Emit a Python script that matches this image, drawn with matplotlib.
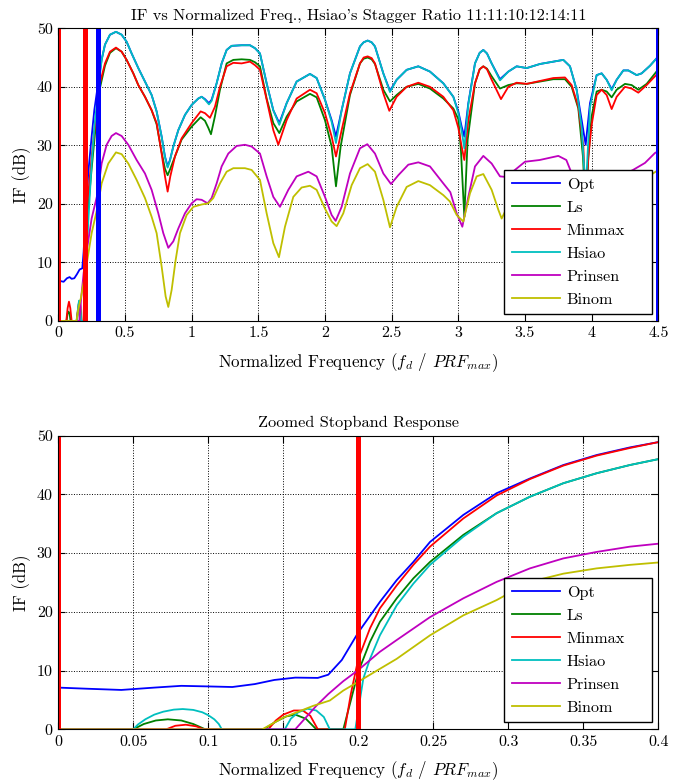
import matplotlib
matplotlib.use("Agg")
import matplotlib.pyplot as plt
from matplotlib.ticker import FuncFormatter, MultipleLocator

plt.rcParams["font.family"] = "cmr10"
plt.rcParams["mathtext.fontset"] = "cm"
plt.rcParams["axes.unicode_minus"] = False
plt.rcParams["axes.formatter.use_mathtext"] = True

LABELS = ["Opt", "Ls", "Minmax", "Hsiao", "Prinsen", "Binom"]
COLORS = ["b", "g", "r", "c", "m", "y"]

# ---- full band (0 .. 4.5), (freq, IF dB) ----
top_opt = [
    (0, 7.0), (0.02, 6.8), (0.04, 6.7), (0.065, 7.3), (0.085, 7.5), (0.1, 7.2), (0.12, 7.3),
    (0.14, 8.0), (0.16, 8.8), (0.18, 9.0), (0.19, 11.8), (0.2, 16.3), (0.225, 25.4),
    (0.25, 31.5), (0.27, 36.0), (0.295, 40.0), (0.325, 44.6), (0.35, 47.2), (0.3875, 48.9),
    (0.4325, 49.4), (0.475, 48.9), (0.5125, 47.7), (0.55, 45.7), (0.6, 43.2), (0.65, 40.9),
    (0.7, 38.6), (0.7375, 35.8), (0.775, 31.5), (0.8, 28.1), (0.82, 26.4), (0.8375, 27.5),
    (0.8625, 29.8), (0.9, 32.6), (0.95, 35.2), (1.0, 36.9), (1.05, 38.0), (1.075, 38.3),
    (1.1, 37.9), (1.13, 37.2), (1.15, 37.8), (1.1875, 40.6), (1.225, 44.0), (1.2625, 46.3),
    (1.3, 47.0), (1.375, 47.1), (1.4375, 47.1), (1.475, 46.6), (1.5125, 45.7), (1.5625, 40.6),
    (1.6125, 36.0), (1.6575, 33.8), (1.7125, 37.2), (1.7875, 40.9), (1.8875, 42.2),
    (1.9375, 41.5), (2.0, 37.8), (2.05, 34.3), (2.0825, 31.5), (2.125, 36.0), (2.1875, 42.3),
    (2.2625, 46.9), (2.29, 47.6), (2.32, 47.9), (2.35, 47.6), (2.375, 46.9), (2.4375, 42.3),
    (2.4875, 39.3), (2.5375, 41.2), (2.6125, 42.9), (2.7, 43.5), (2.7875, 42.6),
    (2.8875, 40.6), (2.9625, 38.3), (3.0, 35.8), (3.025, 33.2), (3.045, 31.5), (3.075, 37.2),
    (3.125, 44.0), (3.16, 45.8), (3.1875, 46.3), (3.215, 45.7), (3.25, 44.0), (3.3125, 41.3),
    (3.375, 42.6), (3.4375, 43.5), (3.5125, 43.2), (3.6125, 43.9), (3.7125, 44.3),
    (3.7875, 44.6), (3.8375, 43.5), (3.8875, 39.5), (3.925, 34.3), (3.955, 30.1),
    (3.9875, 37.2), (4.0375, 42.0), (4.075, 42.3), (4.1125, 41.2), (4.15, 39.6),
    (4.1875, 41.2), (4.2375, 42.8), (4.275, 42.8), (4.3375, 42.0), (4.375, 42.3),
    (4.4375, 43.6), (4.5, 45.2)]

top_hsiao = [
    (0, 0), (0.14, 0), (0.15, 2.8), (0.157, 3.5), (0.165, 2.5), (0.172, 0), (0.198, 0),
    (0.21, 10.0), (0.225, 17.0), (0.25, 27.0), (0.27, 33.0), (0.295, 38.5), (0.325, 44.6),
    (0.35, 47.2), (0.3875, 48.9), (0.4325, 49.4), (0.475, 48.9), (0.5125, 47.7), (0.55, 45.7),
    (0.6, 43.2), (0.65, 40.9), (0.7, 38.6), (0.7375, 35.8), (0.775, 31.5), (0.8, 28.0),
    (0.82, 26.2), (0.8375, 27.4), (0.8625, 29.8), (0.9, 32.6), (0.95, 35.2), (1.0, 36.9),
    (1.05, 38.0), (1.075, 38.3), (1.1, 37.8), (1.13, 37.0), (1.15, 37.6), (1.1875, 40.6),
    (1.225, 44.0), (1.2625, 46.3), (1.3, 47.0), (1.375, 47.1), (1.4375, 47.1), (1.475, 46.6),
    (1.5125, 45.7), (1.5625, 40.6), (1.6125, 36.0), (1.6575, 33.5), (1.7125, 37.2),
    (1.7875, 40.9), (1.8875, 42.2), (1.9375, 41.5), (2.0, 37.8), (2.05, 34.0), (2.0825, 30.4),
    (2.125, 36.0), (2.1875, 42.3), (2.2625, 46.9), (2.29, 47.6), (2.32, 47.9), (2.35, 47.6),
    (2.375, 46.9), (2.4375, 42.3), (2.4875, 39.1), (2.5375, 41.2), (2.6125, 42.9), (2.7, 43.5),
    (2.7875, 42.6), (2.8875, 40.6), (2.9625, 38.3), (3.0, 35.5), (3.025, 32.5), (3.045, 29.5),
    (3.075, 37.0), (3.125, 44.0), (3.16, 45.8), (3.1875, 46.3), (3.215, 45.7), (3.25, 44.0),
    (3.3125, 41.1), (3.375, 42.6), (3.4375, 43.5), (3.5125, 43.2), (3.6125, 43.9),
    (3.7125, 44.3), (3.7875, 44.6), (3.8375, 43.5), (3.8875, 39.5), (3.925, 33.0),
    (3.955, 22.0), (3.9875, 36.5), (4.0375, 42.0), (4.075, 42.3), (4.1125, 41.2),
    (4.15, 39.4), (4.1875, 41.2), (4.2375, 42.8), (4.275, 42.8), (4.3375, 42.0),
    (4.375, 42.3), (4.4375, 43.6), (4.5, 45.2)]

top_ls = [
    (0, 0), (0.062, 0), (0.07, 1.3), (0.077, 1.6), (0.085, 1.2), (0.092, 0), (0.137, 0),
    (0.145, 1.3), (0.152, 2.2), (0.158, 2.5), (0.165, 1.8), (0.172, 0), (0.19, 0), (0.2, 9.8),
    (0.215, 17.0), (0.25, 26.0), (0.2775, 32.5), (0.3125, 39.8), (0.35, 43.6), (0.3875, 45.8),
    (0.4325, 46.6), (0.475, 46.0), (0.5125, 44.6), (0.5625, 42.3), (0.6, 40.3), (0.65, 38.3),
    (0.7, 36.0), (0.7375, 33.6), (0.775, 28.8), (0.8, 26.0), (0.82, 24.9), (0.84, 26.0),
    (0.875, 28.1), (0.925, 31.0), (1.0, 33.2), (1.0675, 34.8), (1.1, 34.2), (1.125, 33.0),
    (1.145, 31.9), (1.175, 35.0), (1.2125, 39.5), (1.2625, 44.0), (1.3125, 44.6),
    (1.375, 44.7), (1.4375, 44.6), (1.475, 44.2), (1.5125, 43.5), (1.5625, 38.0),
    (1.6125, 33.8), (1.6575, 32.1), (1.7125, 34.9), (1.7875, 37.5), (1.8875, 38.8),
    (1.9375, 38.2), (2.0, 34.3), (2.05, 29.8), (2.0825, 23.0), (2.1175, 29.8), (2.1875, 38.6),
    (2.2625, 44.0), (2.29, 44.8), (2.32, 45.0), (2.35, 44.7), (2.375, 43.9), (2.4375, 39.5),
    (2.4875, 37.5), (2.5375, 38.6), (2.6125, 40.0), (2.7, 40.5), (2.7875, 39.7),
    (2.8875, 38.0), (2.9625, 36.3), (3.0, 34.5), (3.02, 29.0), (3.045, 17.8), (3.07, 31.0),
    (3.125, 40.6), (3.16, 43.0), (3.1875, 43.5), (3.215, 43.1), (3.25, 41.8), (3.3125, 39.7),
    (3.375, 40.3), (3.4375, 40.6), (3.5125, 40.5), (3.6125, 40.9), (3.7125, 41.3),
    (3.8, 41.3), (3.85, 40.0), (3.9, 36.3), (3.935, 28.0), (3.955, 18.0), (3.975, 28.0),
    (4.0, 35.0), (4.0375, 39.2), (4.075, 39.5), (4.1125, 39.2), (4.15, 38.2), (4.1875, 39.5),
    (4.25, 40.5), (4.3, 40.3), (4.35, 39.5), (4.4125, 40.5), (4.5, 43.0)]

top_minmax = [
    (0, 0), (0.06, 0), (0.07, 2.2), (0.08, 3.3), (0.09, 2.2), (0.1, 0), (0.14, 0),
    (0.145, 1.5), (0.15, 2.5), (0.157, 3.2), (0.163, 3.2), (0.168, 2.3), (0.173, 0),
    (0.19, 0), (0.2, 12.6), (0.21, 18.0), (0.25, 28.0), (0.2775, 34.0), (0.3125, 40.6),
    (0.35, 44.0), (0.3875, 46.0), (0.4325, 46.7), (0.475, 46.0), (0.5125, 44.6),
    (0.5625, 42.3), (0.6, 40.3), (0.65, 38.3), (0.7, 36.0), (0.7375, 33.8), (0.775, 28.6),
    (0.8, 24.7), (0.82, 22.1), (0.84, 24.7), (0.875, 28.1), (0.925, 31.2), (1.0, 33.8),
    (1.0675, 35.8), (1.1, 35.5), (1.1375, 34.7), (1.175, 36.6), (1.2125, 40.0),
    (1.2625, 43.5), (1.3125, 44.1), (1.375, 44.0), (1.4375, 44.3), (1.475, 43.7),
    (1.5125, 42.9), (1.5625, 37.8), (1.6125, 32.6), (1.65, 30.1), (1.7125, 34.3),
    (1.7875, 38.0), (1.8875, 39.5), (1.9375, 38.9), (2.0, 35.5), (2.05, 31.5), (2.0825, 28.1),
    (2.125, 32.6), (2.1875, 38.9), (2.2625, 44.0), (2.29, 45.0), (2.32, 45.2), (2.35, 44.9),
    (2.375, 44.0), (2.4375, 38.9), (2.4825, 35.9), (2.5375, 38.3), (2.6125, 40.0),
    (2.7, 40.7), (2.7875, 40.0), (2.8875, 38.3), (2.9625, 36.0), (3.0, 33.0), (3.025, 29.8),
    (3.045, 27.5), (3.075, 34.3), (3.125, 40.6), (3.16, 43.0), (3.1875, 43.5), (3.215, 43.0),
    (3.25, 41.2), (3.32, 37.9), (3.375, 40.0), (3.4375, 40.7), (3.5125, 40.5), (3.6125, 41.0),
    (3.7125, 41.5), (3.8, 41.6), (3.85, 40.3), (3.9, 36.6), (3.9375, 29.8), (3.955, 20.0),
    (3.975, 28.0), (4.0, 33.5), (4.0375, 38.6), (4.075, 39.5), (4.1125, 38.6), (4.15, 36.2),
    (4.1875, 38.3), (4.25, 40.0), (4.3, 39.7), (4.35, 39.0), (4.4125, 40.3), (4.5, 42.4)]

top_prinsen = [
    (0, 0), (0.158, 0), (0.172, 4.0), (0.19, 8.2), (0.2, 10.0), (0.25, 17.5), (0.295, 21.8),
    (0.325, 26.9), (0.3625, 30.1), (0.4, 31.6), (0.4325, 32.1), (0.475, 31.6), (0.525, 30.1),
    (0.5875, 27.5), (0.65, 25.2), (0.7, 22.4), (0.75, 18.4), (0.7875, 15.0), (0.825, 12.5),
    (0.8625, 13.6), (0.9, 15.8), (0.95, 18.4), (1.0, 20.1), (1.0375, 20.8), (1.075, 20.7),
    (1.12, 20.1), (1.15, 21.0), (1.1875, 23.5), (1.225, 26.4), (1.275, 28.6), (1.3375, 29.9),
    (1.4, 30.1), (1.45, 29.8), (1.5125, 28.6), (1.5625, 24.7), (1.6125, 21.2), (1.6625, 19.5),
    (1.725, 22.4), (1.7875, 24.7), (1.875, 25.5), (1.9375, 24.7), (2.0, 21.2), (2.05, 18.1),
    (2.08, 17.1), (2.125, 19.5), (2.1875, 25.2), (2.2625, 29.5), (2.3175, 30.2),
    (2.375, 28.6), (2.4375, 25.2), (2.495, 23.4), (2.55, 24.9), (2.625, 26.7), (2.7, 27.1),
    (2.7875, 26.4), (2.8875, 23.5), (2.94, 22.0), (2.9875, 18.4), (3.03, 16.1),
    (3.075, 21.2), (3.125, 26.4), (3.1875, 28.2), (3.25, 26.9), (3.3125, 24.7), (3.36, 24.6),
    (3.5, 27.2), (3.61, 27.5), (3.75, 28.2), (3.81, 27.5), (3.84, 25.8), (3.9, 21.0),
    (3.955, 16.0), (4.0, 20.0), (4.1, 23.0), (4.2, 24.5), (4.31, 25.8), (4.4, 27.0),
    (4.475, 28.7), (4.5, 29.0)]

top_binom = [
    (0, 0), (0.136, 0), (0.15, 2.0), (0.17, 4.0), (0.19, 6.6), (0.2, 7.9), (0.25, 15.0),
    (0.295, 19.5), (0.325, 23.5), (0.375, 26.9), (0.4325, 28.8), (0.475, 28.5), (0.525, 26.9),
    (0.5875, 24.1), (0.65, 21.0), (0.7, 17.8), (0.7375, 15.0), (0.775, 9.3), (0.805, 4.2),
    (0.825, 2.4), (0.85, 5.3), (0.88, 10.4), (0.9125, 15.0), (0.9625, 18.1), (1.0125, 19.5),
    (1.075, 19.9), (1.125, 20.1), (1.1625, 21.0), (1.2125, 23.5), (1.2625, 25.5),
    (1.3125, 26.1), (1.4, 26.1), (1.45, 25.8), (1.5125, 24.1), (1.5625, 18.4), (1.6125, 13.3),
    (1.655, 10.9), (1.7, 16.1), (1.7625, 21.2), (1.825, 22.8), (1.8875, 23.1), (1.9375, 22.4),
    (2.0, 19.2), (2.05, 17.0), (2.0875, 16.2), (2.1375, 18.4), (2.2, 23.2), (2.2625, 26.1),
    (2.32, 26.8), (2.375, 25.5), (2.4375, 20.7), (2.4875, 16.0), (2.5375, 19.5),
    (2.6125, 22.9), (2.7, 23.9), (2.7875, 23.2), (2.8875, 21.5), (2.9375, 20.4),
    (2.9875, 18.1), (3.0375, 17.0), (3.0875, 21.8), (3.1375, 24.7), (3.1875, 25.1),
    (3.25, 22.4), (3.3, 19.0), (3.325, 17.5), (3.4, 21.0), (3.5, 23.0), (3.7, 24.5),
    (3.85, 23.0), (3.95, 17.5), (4.05, 21.0), (4.2, 22.5), (4.35, 23.5), (4.46, 25.2),
    (4.5, 25.8)]

# ---- zoomed stopband (0 .. 0.4) ----
zoom_opt = [
    (0, 7.1), (0.02, 6.9), (0.042, 6.7), (0.064, 7.1), (0.082, 7.4), (0.1, 7.3), (0.116, 7.2),
    (0.131, 7.7), (0.144, 8.4), (0.158, 8.8), (0.173, 8.75), (0.18, 9.3), (0.189, 11.8),
    (0.2, 16.5), (0.2144, 21.7), (0.2256, 25.4), (0.2367, 28.5), (0.2478, 31.9), (0.27, 36.5),
    (0.2922, 40.2), (0.3144, 42.7), (0.3367, 45.0), (0.3589, 46.7), (0.3811, 48.0),
    (0.4, 48.9)]

zoom_ls = [
    (0, 0), (0.05, 0), (0.057, 0.9), (0.065, 1.5), (0.073, 1.7), (0.082, 1.5), (0.09, 0.9),
    (0.098, 0), (0.137, 0), (0.145, 1.3), (0.152, 2.2), (0.158, 2.5), (0.165, 1.8),
    (0.172, 0), (0.19, 0), (0.2, 9.8), (0.2078, 14.9), (0.2144, 18.3), (0.2256, 22.3),
    (0.2367, 25.7), (0.2478, 28.5), (0.27, 33.1), (0.2922, 36.8), (0.3144, 39.6),
    (0.3367, 41.9), (0.3589, 43.6), (0.3811, 45.0), (0.4, 46.0)]

zoom_minmax = [
    (0, 0), (0.072, 0), (0.078, 0.6), (0.085, 0.78), (0.092, 0.5), (0.097, 0), (0.14, 0),
    (0.145, 1.5), (0.15, 2.5), (0.157, 3.2), (0.163, 3.2), (0.168, 2.3), (0.173, 0),
    (0.191, 0), (0.195, 6.0), (0.2, 12.0), (0.2078, 17.2), (0.2144, 20.6), (0.2256, 24.5),
    (0.2367, 28.0), (0.2478, 31.1), (0.27, 35.9), (0.2922, 39.8), (0.3144, 42.6),
    (0.3367, 44.9), (0.3589, 46.6), (0.3811, 47.9), (0.4, 48.9)]

zoom_hsiao = [
    (0, 0), (0.05, 0), (0.053, 0.8), (0.058, 1.7), (0.064, 2.5), (0.07, 3.0), (0.077, 3.35),
    (0.083, 3.45), (0.09, 3.3), (0.096, 2.9), (0.1, 2.4), (0.104, 1.7), (0.107, 0.9),
    (0.109, 0), (0.151, 0), (0.155, 1.8), (0.16, 2.9), (0.166, 3.5), (0.172, 3.2),
    (0.177, 2.1), (0.181, 0), (0.198, 0), (0.2033, 8.6), (0.2078, 12.0), (0.2144, 16.0),
    (0.2256, 21.1), (0.2367, 24.8), (0.2478, 28.0), (0.27, 32.8), (0.2922, 36.8),
    (0.3144, 39.6), (0.3367, 41.9), (0.3589, 43.6), (0.3811, 45.0), (0.4, 46.0)]

zoom_prinsen = [
    (0, 0), (0.158, 0), (0.165, 2.0), (0.172, 4.0), (0.18, 6.0), (0.19, 8.2), (0.2, 10.1),
    (0.2144, 13.2), (0.2256, 15.2), (0.2478, 19.1), (0.27, 22.3), (0.2922, 25.1),
    (0.3144, 27.4), (0.3367, 29.1), (0.3589, 30.2), (0.3811, 31.1), (0.4, 31.6)]

zoom_binom = [
    (0, 0), (0.136, 0), (0.15, 2.0), (0.16, 3.0), (0.17, 4.0), (0.181, 4.9), (0.19, 6.6),
    (0.2, 8.1), (0.2144, 10.3), (0.2256, 12.0), (0.2478, 16.0), (0.27, 19.4), (0.2922, 22.0),
    (0.3144, 25.1), (0.3367, 26.5), (0.3589, 27.4), (0.3811, 28.0), (0.4, 28.4)]

top_series = [top_opt, top_ls, top_minmax, top_hsiao, top_prinsen, top_binom]
zoom_series = [zoom_opt, zoom_ls, zoom_minmax, zoom_hsiao, zoom_prinsen, zoom_binom]

# band edges drawn as thick vertical markers
top_edges = [(0.0, "r"), (0.2, "r"), (0.3, "b"), (4.5, "b")]
zoom_edges = [(0.0, "r"), (0.2, "r")]

XLABEL = r"Normalized Frequency ($f_d$ / $PRF_{max}$)"


def draw_panel(ax, series, edges, xmax, xstep, title, legend_y):
    for pts, color, label in zip(series, COLORS, LABELS):
        xs, ys = zip(*pts)
        ax.plot(xs, ys, color=color, linewidth=1.3, label=label)
    for xe, color in edges:
        ax.axvline(xe, color=color, linewidth=3.6)
    ax.set_xlim(0, xmax)
    ax.set_ylim(0, 50)
    ax.xaxis.set_major_locator(MultipleLocator(xstep))
    ax.yaxis.set_major_locator(MultipleLocator(10))
    ax.xaxis.set_major_formatter(FuncFormatter(lambda v, p: "%g" % round(v, 4)))
    ax.yaxis.set_major_formatter(FuncFormatter(lambda v, p: "%g" % v))
    ax.grid(True, color="k", linestyle=":", linewidth=0.7)
    ax.tick_params(direction="in", top=True, right=True, labelsize=11.5, length=5, pad=4)
    for sp in ax.spines.values():
        sp.set_linewidth(0.8)
    ax.set_title(title, fontsize=11.75, pad=6)
    ax.set_xlabel(XLABEL, fontsize=12.2, labelpad=8)
    ax.set_ylabel("IF (dB)", fontsize=12)
    # MATLAB-style legend box: fixed width, entries left aligned
    ax.legend(loc="lower left", bbox_to_anchor=(0.7433, legend_y, 0.2467, 0.1),
              mode="expand", borderaxespad=0, fontsize=11.7, fancybox=False,
              framealpha=1, edgecolor="k", handlelength=3.0, handletextpad=0.4,
              borderpad=0.45, labelspacing=0.53)


fig = plt.figure(figsize=(6.94, 7.81), dpi=100)
ax1 = fig.add_axes([0.084, 0.589, 0.8646, 0.3748])
ax2 = fig.add_axes([0.084, 0.0662, 0.8646, 0.376])

draw_panel(ax1, top_series, top_edges, 4.5, 0.5,
           "IF vs Normalized Freq., Hsiao's Stagger Ratio 11:11:10:12:14:11", 0.0229)
draw_panel(ax2, zoom_series, zoom_edges, 0.4, 0.05, "Zoomed Stopband Response", 0.0249)

fig.savefig("out.png", dpi=100)
